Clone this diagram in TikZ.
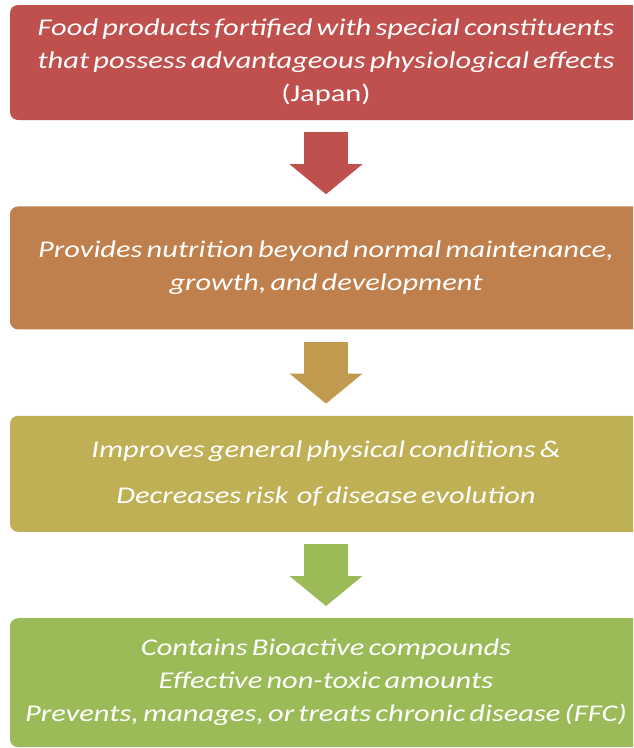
\documentclass[tikz,border=0pt]{standalone}
\usepackage{xcolor}
\usepackage{fontspec}
\setmainfont{Carlito}[FakeStretch=1.27, WordSpace=0.6]
\usetikzlibrary{positioning,arrows.meta}

\definecolor{japanred}{HTML}{C0504D}
\definecolor{nutriorange}{HTML}{C0804D}
\definecolor{condolive}{HTML}{BFB055}
\definecolor{ffcgreen}{HTML}{9BBB59}
\definecolor{arrowochre}{HTML}{BF9A4F}

\begin{document}
\begin{tikzpicture}[
    x=1pt, y=1pt,
    node distance=86pt,
    stage/.style={rectangle, rounded corners=8pt, minimum width=632pt, inner sep=0pt,
        align=center, text=white, font=\fontsize{24}{33}\selectfont\itshape},
    flow/.style={line width=44pt, -{Triangle[width=73pt, length=30pt, line width=0pt]},
        shorten <=12pt, shorten >=12pt}
]
    \useasboundingbox (0,0) rectangle (633,-748);
    \begin{scope}
    \clip (0,0) rectangle (633,-748);
    \node[stage, fill=japanred, minimum height=115pt] (japan) at (326,-62.5)
        {Food products fortified with special constituents\\
         that possess advantageous physiological effects\\
         \upshape(Japan)};
    \node[stage, fill=nutriorange, minimum height=123pt, below=of japan] (nutrition)
        {Provides nutrition beyond normal maintenance,\\
         growth, and development};
    \node[stage, fill=condolive, minimum height=116pt, below=of nutrition] (health)
        {Improves general physical conditions \&\\[13pt]
         Decreases risk~ of disease evolution};
    \node[stage, fill=ffcgreen, minimum height=129pt, below=of health] (ffc)
        {Contains Bioactive compounds\\
         Effective non-toxic amounts\\
         Prevents, manages, or treats chronic disease (FFC)};

    \draw[flow, japanred] (japan) -- (nutrition);
    \draw[flow, arrowochre] (nutrition) -- (health);
    \draw[flow, ffcgreen] (health) -- (ffc);
    \end{scope}
\end{tikzpicture}
\end{document}
